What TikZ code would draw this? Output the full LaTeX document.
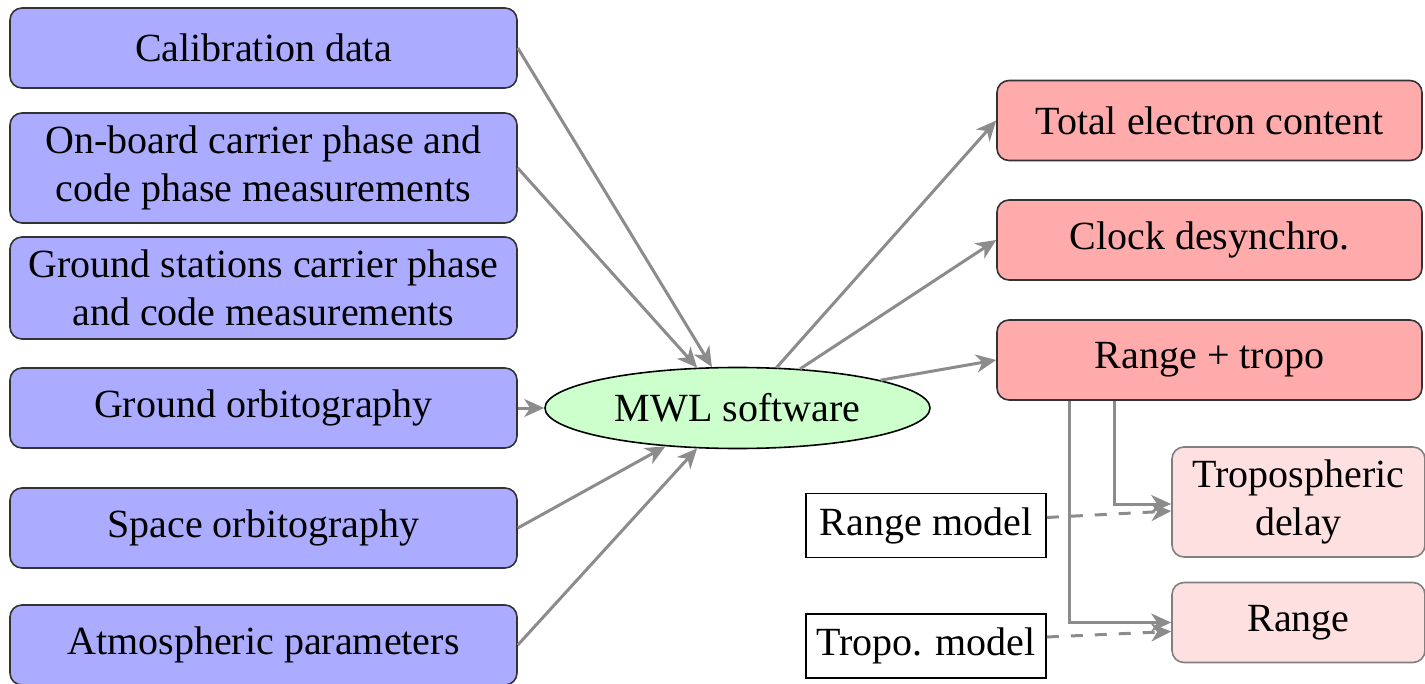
\documentclass[tikz,border=0pt]{standalone}
\usepackage{fontspec}
\setmainfont{Liberation Serif}
\usetikzlibrary{calc,arrows.meta,shapes.geometric}
\tikzset{
  inbox/.style={draw=black!80, fill=blue!33, rounded corners=3pt, align=center, minimum width=126.75pt, minimum height=20pt, inner sep=2pt},
  outbox/.style={draw=black!80, fill=red!33, rounded corners=3pt, align=center, minimum width=106.25pt, minimum height=20pt},
  subbox/.style={draw=black!50, fill=red!12, rounded corners=3pt, align=center, minimum width=63.25pt, minimum height=20pt, inner sep=2pt},
  modelbox/.style={draw=black, fill=white, minimum width=60pt, minimum height=16pt, inner sep=2pt},
  soft/.style={draw=green!20!black, fill=green!20, ellipse, minimum width=96.25pt, minimum height=20.25pt, draw=black, thin},
  conn/.style={draw=black!45, line width=0.75pt, -{Stealth[length=5pt,width=4.5pt,inset=1.5pt]}},
  dconn/.style={conn, dashed}
}
\begin{document}
\begin{tikzpicture}[x=0.25pt, y=-0.25pt]
\useasboundingbox (0,0) rectangle (1425,684);
\node[inbox] (cal) at (263.5,48) {Calibration data};
\node[inbox, minimum height=27.5pt] (onb) at (263.5,168) {On-board carrier phase and\\code phase measurements};
\node[inbox, minimum height=25.5pt] (gsc) at (263.5,288) {Ground stations carrier phase\\and code measurements};
\node[inbox] (gor) at (263.5,408) {Ground orbitography};
\node[inbox] (sor) at (263.5,528) {Space orbitography};
\node[inbox] (atm) at (263.5,645) {Atmospheric parameters};
\node[soft] (mwl) at (737.5,408) {MWL software};
\node[outbox] (tec) at (1209.5,120.5) {Total electron content};
\node[outbox] (clk) at (1209.5,240) {Clock desynchro.};
\node[outbox] (rt) at (1209.5,360) {Range + tropo};
\node[subbox, minimum height=27.5pt] (td) at (1298.5,502) {Tropospheric\\delay};
\node[subbox] (rg) at (1298.5,622.5) {Range};
\node[modelbox] (rm) at (926,525.5) {Range model};
\node[modelbox] (tm) at (926,646) {Tropo. model};
\draw[conn] (cal.east) -- (mwl.122);
\draw[conn] (onb.east) -- (mwl.135);
\draw[conn] (gor.east) -- (mwl.west);
\draw[conn] (sor.east) -- (mwl.208);
\draw[conn] (atm.east) -- (mwl.225);
\draw[conn] (mwl.46) -- (tec.west);
\draw[conn] (mwl.32) -- (clk.west);
\draw[conn] (mwl.11) -- (rt.west);
\draw[conn] ($(rt.south west)+(118,0)$) |- ($(td.west)+(0,2)$);
\draw[conn] ($(rt.south west)+(73,0)$) |- (rg.west);
\draw[dconn] ($(rm.east)+(0,-8)$) -- ($(td.west)+(0,9)$);
\draw[dconn] ($(tm.east)+(0,-9)$) -- ($(rg.west)+(0,9)$);
\end{tikzpicture}
\end{document}
